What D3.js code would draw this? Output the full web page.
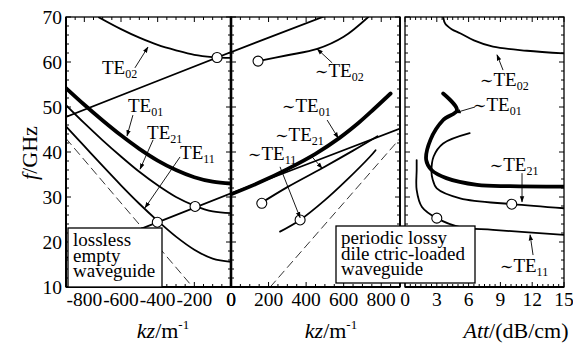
<!DOCTYPE html>
<html><head><meta charset="utf-8">
<script src="https://cdn.jsdelivr.net/npm/d3@7"></script>
<style>
body{margin:0;background:#fff}
svg text{font-family:'Liberation Serif','Times New Roman',Times,serif;fill:#000}
</style></head><body>
<svg id="c" width="573" height="345" font-family="Liberation Serif, Times New Roman, serif"></svg>
<script>
// ---------- tick labels ----------
const fTicks=[10,20,30,40,50,60,70];
const kzNegTicks=[-800,-600,-400,-200,0];
const kzPosTicks=[0,200,400,600,800];
const attTicks=[0,3,6,9,12,15];

// ---------- panel 1 : lossless empty waveguide (kz, f) ----------
const emptyKz=[-900,-800,-700,-600,-500,-400,-300,-200,-100,0];
const emptyTE01=[54.2,50.5,47.0,43.7,40.7,38.1,36.0,34.4,33.4,33.0];
const emptyTE21=[50.4,46.4,42.6,39.0,35.6,32.6,30.0,28.1,26.8,26.4];
const emptyTE11=[45.7,41.3,36.9,32.6,28.5,24.7,21.2,18.3,16.3,15.6];
const emptyTE02Kz=[-720,-600,-500,-400,-300,-200,-100,0];
const emptyTE02=[69.9,67.3,65.4,63.8,62.6,61.6,61.1,60.9];
const riseKz1=[-900,0,500];
const rise1=[47.8,62.2,70.2];
const riseKz2=[-900,0,900];
const rise2=[16.4,30.8,45.2];
const lightKz1=[-900,-209];
const light1=[43.0,10.0];
const lightKz2=[209,900];
const light2=[10.0,43.0];
const emptyCircKz=[-76,-196,-402];
const emptyCircF=[61.0,27.9,24.4];

// ---------- panel 2 : periodic lossy loaded waveguide (Re kz, f) ----------
const pTE02Kz=[144,300,459,600,731];
const pTE02=[60.2,61.5,62.9,65.6,70.0];
const pTE01Kz=[0,150,300,450,580,680,760,850];
const pTE01=[30.6,33.2,36.2,39.6,43.2,46.5,49.5,53.0];
const pTE21Kz=[150,300,485,650,780];
const pTE21=[28.4,32.2,36.4,40.3,43.5];
const pTE11Kz=[261,368,500,617,741,770];
const pTE11=[22.3,24.9,29.3,33.8,39.0,40.4];
const pCircKz=[144,164,368];
const pCircF=[60.2,28.6,24.9];

// ---------- panel 3 : attenuation (dB/cm, f) ----------
const aTE02Att=[3.6,3.8,4.4,5.2,6.5,8.3,11.5,15];
const aTE02=[70,68.5,67.3,66.4,64.8,63.4,62.5,61.9];
const aTE01Att=[3.6,4.9,3.6,2.4,2.0,2.5,3.9,6.8,9.9,15];
const aTE01=[53,49.3,47.1,42.7,38.2,36,34.2,32.7,32.4,32.3];
const aTE21Att=[6.1,3.6,2.7,2.5,2.6,3.0,5.2,10.1,15];
const aTE21=[44.2,41.9,39,35.5,34,31.9,29.7,28.4,27.5];
const aTE11Att=[1.1,1.1,1.1,1.6,3.0,5.2,8.3,15];
const aTE11=[38.2,36,31.6,27.8,25.3,23.3,22.7,21.6];
const aCircAtt=[3.0,10.07];
const aCircF=[25.3,28.4];

// ---------- drawing ----------
const FONT="'Liberation Serif','Times New Roman',Times,serif";
const svg=d3.select("#c");
const y=d3.scaleLinear().domain([10,70]).range([287,17]);
const x1=d3.scaleLinear().domain([-900,0]).range([66,231]);
const x2=d3.scaleLinear().domain([0,900]).range([231,400]);
const x3=d3.scaleLinear().domain([0,15]).range([405,564]);

const defs=svg.append("defs");
defs.append("marker").attr("id","ah").attr("viewBox","0 0 10 10").attr("refX",9).attr("refY",5)
  .attr("markerWidth",7).attr("markerHeight",7).attr("orient","auto-start-reverse")
  .append("path").attr("d","M0,1.5L10,5L0,8.5Z").attr("fill","#000");
[[x1,"cp1"],[x2,"cp2"],[x3,"cp3"]].forEach(([xs,id])=>{
  defs.append("clipPath").attr("id",id).append("rect")
    .attr("x",xs.range()[0]).attr("y",17).attr("width",xs.range()[1]-xs.range()[0]).attr("height",270);
});

function T(sel){ return sel.append("text").style("font-family",FONT); }

function frame(xs, majors, minorStep){
  const g=svg.append("g");
  const [r0,r1]=xs.range();
  const [d0,d1]=xs.domain();
  const minors=d3.range(Math.ceil(d0/minorStep)*minorStep,d1+1e-9,minorStep);
  [[287,-1],[17,1]].forEach(([yy,dir])=>{
    minors.forEach(v=>{
      const isMaj=majors.some(m=>Math.abs(m-v)<1e-9);
      g.append("line").attr("x1",xs(v)).attr("x2",xs(v)).attr("y1",yy).attr("y2",yy+dir*(isMaj?5:3))
        .attr("stroke","#000").attr("stroke-width",1);
    });
  });
  const fmin=d3.range(10,70.01,2);
  [[r0,1],[r1,-1]].forEach(([xx,dir])=>{
    fmin.forEach(v=>{
      const isMaj=v%10===0;
      g.append("line").attr("y1",y(v)).attr("y2",y(v)).attr("x1",xx).attr("x2",xx+dir*(isMaj?5:3))
        .attr("stroke","#000").attr("stroke-width",1);
    });
  });
  g.append("rect").attr("x",r0).attr("y",17).attr("width",r1-r0).attr("height",270)
    .attr("fill","none").attr("stroke","#000").attr("stroke-width",1.3);
  majors.forEach(v=>{
    T(g).attr("x",xs(v)).attr("y",306).attr("text-anchor","middle")
      .attr("font-size",19.5).text(v);
  });
}
frame(x1,kzNegTicks,50);
frame(x2,kzPosTicks,50);
frame(x3,attTicks,0.5);
svg.append("line").attr("x1",66).attr("x2",66).attr("y1",17).attr("y2",287).attr("stroke","#000").attr("stroke-width",2);
svg.append("line").attr("x1",231).attr("x2",231).attr("y1",17).attr("y2",287).attr("stroke","#000").attr("stroke-width",2.6);
svg.append("line").attr("x1",400).attr("x2",400).attr("y1",17).attr("y2",287).attr("stroke","#000").attr("stroke-width",2);
svg.append("line").attr("x1",66).attr("x2",400).attr("y1",287).attr("y2",287).attr("stroke","#000").attr("stroke-width",1.8);
svg.append("line").attr("x1",405).attr("x2",564).attr("y1",287).attr("y2",287).attr("stroke","#000").attr("stroke-width",1.8);

fTicks.forEach(v=>{
  T(svg).attr("x",62).attr("y",y(v)+6.5).attr("text-anchor","end").attr("font-size",19.5).text(v);
});

// axis titles
function kzTitle(cx){
  const t=T(svg).attr("x",cx).attr("y",338).attr("text-anchor","middle").attr("font-size",22);
  t.append("tspan").attr("font-style","italic").text("kz");
  t.append("tspan").text("/m");
  t.append("tspan").attr("font-size",13).attr("dy",-9).text("-1");
}
kzTitle(163); kzTitle(331);
const t3=T(svg).attr("x",516).attr("y",338).attr("text-anchor","middle").attr("font-size",22);
t3.append("tspan").attr("font-style","italic").text("Att");
t3.append("tspan").text("/(dB/cm)");
const ty=T(svg).attr("transform","translate(37,153) rotate(-90)").attr("text-anchor","middle").attr("font-size",22);
ty.append("tspan").attr("font-style","italic").text("f");
ty.append("tspan").text("/GHz");

// curves
function curve(xs, clip, xa, ya, w, dash){
  const pts=xa.map((v,i)=>[xs(v),y(ya[i])]);
  svg.append("path").attr("clip-path",`url(#${clip})`)
    .attr("d",d3.line().curve(d3.curveCatmullRom.alpha(0.5))(pts))
    .attr("fill","none").attr("stroke","#000").attr("stroke-width",w)
    .attr("stroke-dasharray",dash||null).attr("stroke-linejoin","round").attr("stroke-linecap","round");
}
curve(x1,"cp1",lightKz1,light1,0.8,"8,5");
curve(x1,"cp1",riseKz1,rise1,1.8);
curve(x1,"cp1",riseKz2,rise2,1.8);
curve(x1,"cp1",emptyTE02Kz,emptyTE02,1.8);
curve(x1,"cp1",emptyKz,emptyTE21,1.8);
curve(x1,"cp1",emptyKz,emptyTE11,1.8);
curve(x1,"cp1",emptyKz,emptyTE01,3.8);
curve(x2,"cp2",lightKz2,light2,0.8,"8,5");
curve(x2,"cp2",riseKz1,rise1,1.8);
curve(x2,"cp2",riseKz2,rise2,1.8);
curve(x2,"cp2",pTE02Kz,pTE02,1.8);
curve(x2,"cp2",pTE21Kz,pTE21,1.8);
curve(x2,"cp2",pTE11Kz,pTE11,1.8);
curve(x2,"cp2",pTE01Kz,pTE01,3.8);
curve(x3,"cp3",aTE02Att,aTE02,1.8);
curve(x3,"cp3",aTE21Att,aTE21,1.8);
curve(x3,"cp3",aTE11Att,aTE11,1.8);
curve(x3,"cp3",aTE01Att,aTE01,3.8);

function circles(xs,xa,ya){
  xa.forEach((v,i)=>svg.append("circle").attr("cx",xs(v)).attr("cy",y(ya[i])).attr("r",5)
    .attr("fill","#fff").attr("stroke","#000").attr("stroke-width",1.1));
}
circles(x1,emptyCircKz,emptyCircF);
circles(x2,pCircKz,pCircF);
circles(x3,aCircAtt,aCircF);

function label(xs,lx,lf,sub,tilde,ax0,af0,ax1,af1){
  const t=T(svg).attr("x",xs(lx)).attr("y",y(lf)).attr("font-size",19);
  if(tilde) t.append("tspan").style("font-family","'DejaVu Serif',serif").attr("font-size",16).text("\u223C");
  t.append("tspan").text("TE");
  t.append("tspan").attr("font-size",12).attr("dy",4).text(sub);
  svg.append("line").attr("x1",xs(ax0)).attr("y1",y(af0)).attr("x2",xs(ax1)).attr("y2",y(af1))
    .attr("stroke","#000").attr("stroke-width",0.9).attr("marker-end","url(#ah)");
}
label(x1,-704,57.3,"02",false,-524,58.7,-453,63.3);
label(x1,-562,48.9,"01",false,-535,48.2,-567,43.6);
label(x1,-458,42.9,"21",false,-425,42.7,-496,36.2);
label(x1,-278,38.4,"11",false,-278,38.9,-469,27.6);
label(x2,448,56.7,"02",true,539,59.8,459,62.9);
label(x2,272,48.9,"01",true,512,47.1,571,43.1);
label(x2,235,42.4,"21",true,432,38.9,485,36.4);
label(x2,91,38.2,"11",true,261,36.7,368,25.4);
label(x3,7.08,54.7,"02",true,9.25,58.2,8.68,61.6);
label(x3,6.42,49.1,"01",true,6.6,50,4.72,48.7);
label(x3,8.0,35.8,"21",true,11.04,35.3,11.04,28.9);
label(x3,8.96,13.3,"11",true,12.08,17.1,11.8,21.6);

function box(x0,y0,x1b,y1b,lines,tx){
  svg.append("rect").attr("x",x0).attr("y",y0).attr("width",x1b-x0).attr("height",y1b-y0)
    .attr("fill","#fff").attr("stroke","#000").attr("stroke-width",1.3);
  lines.forEach((s,i)=>T(svg).attr("x",tx).attr("y",y0+18+i*15.5).attr("font-size",19).text(s));
}
box(68,228,162,287,["lossless","empty","waveguide"],73);
box(336,226,475,283,["periodic lossy","dile ctric-loaded","waveguide"],341);
</script></body></html>
